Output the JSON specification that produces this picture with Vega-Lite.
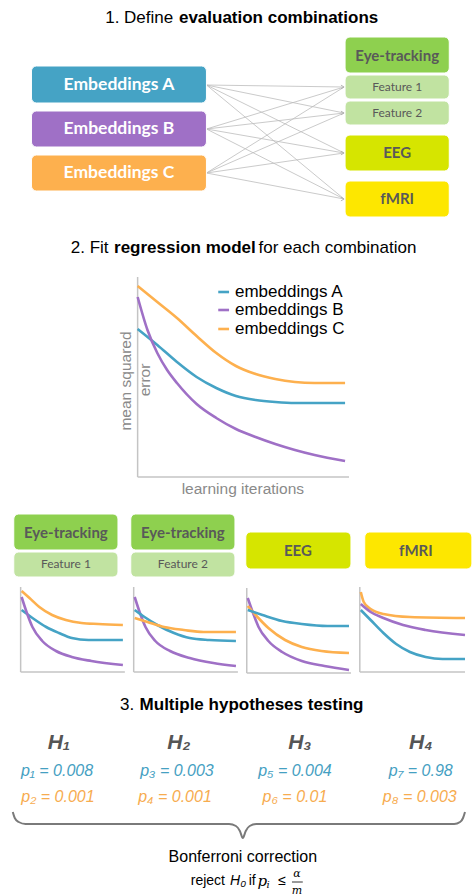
{
  "$schema": "https://vega.github.io/schema/vega-lite/v6.json",
  "width": 473,
  "height": 896,
  "autosize": {"type": "fit", "contains": "padding"},
  "padding": 0,
  "background": "white",
  "config": {"view": {"stroke": null}},
  "datasets": {
    "boxes": [
      {"x": 32, "x2": 210, "y": 66, "y2": 103, "k": "A"},
      {"x": 32, "x2": 210, "y": 111, "y2": 147, "k": "B"},
      {"x": 32, "x2": 210, "y": 155, "y2": 191, "k": "C"},
      {"x": 351, "x2": 457, "y": 37, "y2": 73, "k": "eye"},
      {"x": 351, "x2": 457, "y": 75, "y2": 99, "k": "feat"},
      {"x": 351, "x2": 457, "y": 101, "y2": 125, "k": "feat"},
      {"x": 351, "x2": 457, "y": 135, "y2": 171, "k": "eeg"},
      {"x": 351, "x2": 457, "y": 181, "y2": 217, "k": "fmri"},
      {"x": 14, "x2": 120, "y": 514, "y2": 550, "k": "eye"},
      {"x": 14, "x2": 120, "y": 552, "y2": 577, "k": "feat"},
      {"x": 133, "x2": 239, "y": 514, "y2": 550, "k": "eye"},
      {"x": 133, "x2": 239, "y": 552, "y2": 577, "k": "feat"},
      {"x": 250, "x2": 357, "y": 532, "y2": 569, "k": "eeg"},
      {"x": 371, "x2": 480, "y": 532, "y2": 569, "k": "fmri"}
    ],
    "arrows": [
      {"x": 210, "y": 85, "x2": 350, "y2": 87},
      {"x": 210, "y": 85, "x2": 350, "y2": 113},
      {"x": 210, "y": 85, "x2": 350, "y2": 153},
      {"x": 210, "y": 85, "x2": 350, "y2": 199},
      {"x": 210, "y": 129, "x2": 350, "y2": 87},
      {"x": 210, "y": 129, "x2": 350, "y2": 113},
      {"x": 210, "y": 129, "x2": 350, "y2": 153},
      {"x": 210, "y": 129, "x2": 350, "y2": 199},
      {"x": 210, "y": 173, "x2": 350, "y2": 87},
      {"x": 210, "y": 173, "x2": 350, "y2": 113},
      {"x": 210, "y": 173, "x2": 350, "y2": 153},
      {"x": 210, "y": 173, "x2": 350, "y2": 199}
    ],
    "heads": [
      {"x": 350, "y": 87}, {"x": 350, "y": 113}, {"x": 350, "y": 153}, {"x": 350, "y": 199}
    ],
    "axes": [
      {"x": 140, "y": 277, "x2": 140, "y2": 477},
      {"x": 140, "y": 477, "x2": 355, "y2": 477},
      {"x": 21, "y": 587, "x2": 21, "y2": 672},
      {"x": 21, "y": 672, "x2": 127, "y2": 672},
      {"x": 136, "y": 587, "x2": 136, "y2": 672},
      {"x": 136, "y": 672, "x2": 242, "y2": 672},
      {"x": 251, "y": 588, "x2": 251, "y2": 673},
      {"x": 251, "y": 673, "x2": 357, "y2": 673},
      {"x": 366, "y": 587, "x2": 366, "y2": 672},
      {"x": 366, "y": 672, "x2": 473, "y2": 672}
    ],
    "legend": [
      {"x": 222, "x2": 233, "y": 292, "k": "A"},
      {"x": 222, "x2": 233, "y": 310, "k": "B"},
      {"x": 222, "x2": 233, "y": 329, "k": "C"}
    ],
    "curves": [
      {"g": "m", "k": "C", "x": 140, "y": 286}, {"g": "m", "k": "C", "x": 160, "y": 302}, {"g": "m", "k": "C", "x": 180, "y": 318}, {"g": "m", "k": "C", "x": 200, "y": 336}, {"g": "m", "k": "C", "x": 220, "y": 353}, {"g": "m", "k": "C", "x": 240, "y": 366}, {"g": "m", "k": "C", "x": 260, "y": 374}, {"g": "m", "k": "C", "x": 280, "y": 379}, {"g": "m", "k": "C", "x": 300, "y": 382}, {"g": "m", "k": "C", "x": 320, "y": 383}, {"g": "m", "k": "C", "x": 351, "y": 383},
      {"g": "m", "k": "A", "x": 140, "y": 329}, {"g": "m", "k": "A", "x": 160, "y": 345}, {"g": "m", "k": "A", "x": 180, "y": 362}, {"g": "m", "k": "A", "x": 200, "y": 377}, {"g": "m", "k": "A", "x": 220, "y": 388}, {"g": "m", "k": "A", "x": 240, "y": 396}, {"g": "m", "k": "A", "x": 260, "y": 400}, {"g": "m", "k": "A", "x": 280, "y": 402}, {"g": "m", "k": "A", "x": 300, "y": 403}, {"g": "m", "k": "A", "x": 351, "y": 403},
      {"g": "m", "k": "B", "x": 140, "y": 297}, {"g": "m", "k": "B", "x": 150, "y": 330}, {"g": "m", "k": "B", "x": 160, "y": 353}, {"g": "m", "k": "B", "x": 170, "y": 370}, {"g": "m", "k": "B", "x": 180, "y": 383}, {"g": "m", "k": "B", "x": 200, "y": 404}, {"g": "m", "k": "B", "x": 220, "y": 418}, {"g": "m", "k": "B", "x": 240, "y": 429}, {"g": "m", "k": "B", "x": 260, "y": 437}, {"g": "m", "k": "B", "x": 280, "y": 444}, {"g": "m", "k": "B", "x": 300, "y": 450}, {"g": "m", "k": "B", "x": 320, "y": 455}, {"g": "m", "k": "B", "x": 351, "y": 461},

      {"g": "p1", "k": "C", "x": 22, "y": 591}, {"g": "p1", "k": "C", "x": 30, "y": 598}, {"g": "p1", "k": "C", "x": 40, "y": 607}, {"g": "p1", "k": "C", "x": 53, "y": 615}, {"g": "p1", "k": "C", "x": 67, "y": 620}, {"g": "p1", "k": "C", "x": 83, "y": 623}, {"g": "p1", "k": "C", "x": 100, "y": 624}, {"g": "p1", "k": "C", "x": 125, "y": 625},
      {"g": "p1", "k": "A", "x": 22, "y": 610}, {"g": "p1", "k": "A", "x": 33, "y": 618}, {"g": "p1", "k": "A", "x": 47, "y": 627}, {"g": "p1", "k": "A", "x": 60, "y": 633}, {"g": "p1", "k": "A", "x": 73, "y": 638}, {"g": "p1", "k": "A", "x": 90, "y": 640}, {"g": "p1", "k": "A", "x": 125, "y": 640},
      {"g": "p1", "k": "B", "x": 22, "y": 597}, {"g": "p1", "k": "B", "x": 27, "y": 612}, {"g": "p1", "k": "B", "x": 33, "y": 627}, {"g": "p1", "k": "B", "x": 43, "y": 641}, {"g": "p1", "k": "B", "x": 57, "y": 651}, {"g": "p1", "k": "B", "x": 73, "y": 657}, {"g": "p1", "k": "B", "x": 93, "y": 661}, {"g": "p1", "k": "B", "x": 125, "y": 665},

      {"g": "p2", "k": "B", "x": 137, "y": 597}, {"g": "p2", "k": "B", "x": 142, "y": 612}, {"g": "p2", "k": "B", "x": 148, "y": 627}, {"g": "p2", "k": "B", "x": 158, "y": 641}, {"g": "p2", "k": "B", "x": 173, "y": 651}, {"g": "p2", "k": "B", "x": 193, "y": 658}, {"g": "p2", "k": "B", "x": 217, "y": 663}, {"g": "p2", "k": "B", "x": 240, "y": 666},
      {"g": "p2", "k": "A", "x": 137, "y": 610}, {"g": "p2", "k": "A", "x": 147, "y": 617}, {"g": "p2", "k": "A", "x": 160, "y": 625}, {"g": "p2", "k": "A", "x": 177, "y": 633}, {"g": "p2", "k": "A", "x": 193, "y": 638}, {"g": "p2", "k": "A", "x": 213, "y": 640}, {"g": "p2", "k": "A", "x": 240, "y": 641},
      {"g": "p2", "k": "C", "x": 137, "y": 618}, {"g": "p2", "k": "C", "x": 150, "y": 622}, {"g": "p2", "k": "C", "x": 167, "y": 627}, {"g": "p2", "k": "C", "x": 187, "y": 630}, {"g": "p2", "k": "C", "x": 207, "y": 632}, {"g": "p2", "k": "C", "x": 240, "y": 632},

      {"g": "p3", "k": "B", "x": 252, "y": 598}, {"g": "p3", "k": "B", "x": 257, "y": 612}, {"g": "p3", "k": "B", "x": 263, "y": 627}, {"g": "p3", "k": "B", "x": 273, "y": 641}, {"g": "p3", "k": "B", "x": 287, "y": 652}, {"g": "p3", "k": "B", "x": 307, "y": 661}, {"g": "p3", "k": "B", "x": 330, "y": 666}, {"g": "p3", "k": "B", "x": 355, "y": 670},
      {"g": "p3", "k": "C", "x": 252, "y": 606}, {"g": "p3", "k": "C", "x": 260, "y": 615}, {"g": "p3", "k": "C", "x": 273, "y": 628}, {"g": "p3", "k": "C", "x": 290, "y": 640}, {"g": "p3", "k": "C", "x": 307, "y": 647}, {"g": "p3", "k": "C", "x": 327, "y": 651}, {"g": "p3", "k": "C", "x": 355, "y": 653},
      {"g": "p3", "k": "A", "x": 252, "y": 610}, {"g": "p3", "k": "A", "x": 267, "y": 615}, {"g": "p3", "k": "A", "x": 287, "y": 621}, {"g": "p3", "k": "A", "x": 307, "y": 624}, {"g": "p3", "k": "A", "x": 333, "y": 626}, {"g": "p3", "k": "A", "x": 355, "y": 626},

      {"g": "p4", "k": "C", "x": 367, "y": 592}, {"g": "p4", "k": "C", "x": 370, "y": 602}, {"g": "p4", "k": "C", "x": 377, "y": 609}, {"g": "p4", "k": "C", "x": 390, "y": 614}, {"g": "p4", "k": "C", "x": 417, "y": 617}, {"g": "p4", "k": "C", "x": 473, "y": 618},
      {"g": "p4", "k": "B", "x": 367, "y": 604}, {"g": "p4", "k": "B", "x": 377, "y": 612}, {"g": "p4", "k": "B", "x": 390, "y": 618}, {"g": "p4", "k": "B", "x": 410, "y": 625}, {"g": "p4", "k": "B", "x": 433, "y": 630}, {"g": "p4", "k": "B", "x": 473, "y": 635},
      {"g": "p4", "k": "A", "x": 367, "y": 610}, {"g": "p4", "k": "A", "x": 377, "y": 620}, {"g": "p4", "k": "A", "x": 390, "y": 633}, {"g": "p4", "k": "A", "x": 403, "y": 644}, {"g": "p4", "k": "A", "x": 417, "y": 652}, {"g": "p4", "k": "A", "x": 433, "y": 657}, {"g": "p4", "k": "A", "x": 450, "y": 659}, {"g": "p4", "k": "A", "x": 473, "y": 659}
    ],
    "brace": [
      {"x": 13, "y": 812}, {"x": 15, "y": 818}, {"x": 19, "y": 822}, {"x": 26, "y": 824}, {"x": 233, "y": 824}, {"x": 240, "y": 826}, {"x": 244, "y": 831}, {"x": 247, "y": 838}, {"x": 250, "y": 831}, {"x": 254, "y": 826}, {"x": 261, "y": 824}, {"x": 462, "y": 824}, {"x": 468, "y": 822}, {"x": 471, "y": 818}, {"x": 473, "y": 812}
    ],
    "frac": [{"x": 297, "x2": 308, "y": 882}],
    "texts": [
      {"r": "tn", "x": 107, "y": 18, "t": "1. Define"},
      {"r": "tb", "x": 182, "y": 18, "t": "evaluation combinations"},
      {"r": "tn", "x": 72, "y": 248, "t": "2. Fit"},
      {"r": "tb", "x": 116, "y": 248, "t": "regression model"},
      {"r": "tn", "x": 263, "y": 248, "t": "for each combination"},
      {"r": "tn", "x": 122, "y": 705, "t": "3."},
      {"r": "tb", "x": 142, "y": 705, "t": "Multiple hypotheses testing"},
      {"r": "emb", "x": 121, "y": 85, "t": "Embeddings A"},
      {"r": "emb", "x": 121, "y": 129, "t": "Embeddings B"},
      {"r": "emb", "x": 121, "y": 173, "t": "Embeddings C"},
      {"r": "bb", "x": 404, "y": 56, "t": "Eye-tracking"},
      {"r": "br", "x": 404, "y": 87, "t": "Feature 1"},
      {"r": "br", "x": 404, "y": 113, "t": "Feature 2"},
      {"r": "bb", "x": 404, "y": 153, "t": "EEG"},
      {"r": "bb", "x": 404, "y": 199, "t": "fMRI"},
      {"r": "bb", "x": 67, "y": 533, "t": "Eye-tracking"},
      {"r": "br", "x": 67, "y": 564, "t": "Feature 1"},
      {"r": "bb", "x": 186, "y": 533, "t": "Eye-tracking"},
      {"r": "br", "x": 186, "y": 564, "t": "Feature 2"},
      {"r": "bb", "x": 303, "y": 551, "t": "EEG"},
      {"r": "bb", "x": 423, "y": 551, "t": "fMRI"},
      {"r": "leg", "x": 239, "y": 292, "t": "embeddings A"},
      {"r": "leg", "x": 239, "y": 310, "t": "embeddings B"},
      {"r": "leg", "x": 239, "y": 329, "t": "embeddings C"},
      {"r": "ax", "x": 247, "y": 489, "t": "learning iterations"},
      {"r": "axr", "x": 128, "y": 381, "t": "mean squared"},
      {"r": "axr", "x": 148, "y": 380, "t": "error"},
      {"r": "H", "x": 60, "y": 743, "t": "H₁"},
      {"r": "H", "x": 182, "y": 743, "t": "H₂"},
      {"r": "H", "x": 305, "y": 743, "t": "H₃"},
      {"r": "H", "x": 428, "y": 743, "t": "H₄"},
      {"r": "pA", "x": 58, "y": 771, "t": "p₁ = 0.008"},
      {"r": "pA", "x": 180, "y": 771, "t": "p₃ = 0.003"},
      {"r": "pA", "x": 300, "y": 771, "t": "p₅ = 0.004"},
      {"r": "pA", "x": 428, "y": 771, "t": "p₇ = 0.98"},
      {"r": "pC", "x": 59, "y": 797, "t": "p₂ = 0.001"},
      {"r": "pC", "x": 178, "y": 797, "t": "p₄ = 0.001"},
      {"r": "pC", "x": 300, "y": 797, "t": "p₆ = 0.01"},
      {"r": "pC", "x": 427, "y": 797, "t": "p₈ = 0.003"},
      {"r": "bon", "x": 247, "y": 857, "t": "Bonferroni correction"},
      {"r": "rj", "x": 194, "y": 881, "t": "reject"},
      {"r": "rji", "x": 234, "y": 881, "t": "H₀"},
      {"r": "rj", "x": 253, "y": 881, "t": "if"},
      {"r": "mi", "x": 262, "y": 881, "t": "p"},
      {"r": "ms", "x": 271, "y": 885, "t": "i"},
      {"r": "rj", "x": 283, "y": 881, "t": "≤"},
      {"r": "mf", "x": 302, "y": 874, "t": "α"},
      {"r": "mf", "x": 302, "y": 891, "t": "m"}
    ]
  },
  "encoding": {
    "x": {"field": "x", "type": "quantitative", "scale": {"domain": [0, 473], "nice": false, "zero": false}, "axis": null},
    "y": {"field": "y", "type": "quantitative", "scale": {"domain": [0, 896], "nice": false, "zero": false, "reverse": true}, "axis": null}
  },
  "layer": [
    {
      "data": {"name": "arrows"},
      "mark": {"type": "rule", "color": "#bdbdbd", "strokeWidth": 0.8},
      "encoding": {"x2": {"field": "x2"}, "y2": {"field": "y2"}}
    },
    {
      "data": {"name": "heads"},
      "mark": {"type": "point", "shape": "M-1,-0.6L0,0L-1,0.6", "filled": false, "stroke": "#b0b0b0", "strokeWidth": 0.9, "size": 40, "opacity": 1},
      "encoding": {}
    },
    {
      "data": {"name": "boxes"},
      "mark": {"type": "rect", "cornerRadius": 5, "stroke": "#ffffff", "strokeWidth": 1},
      "encoding": {
        "x2": {"field": "x2"}, "y2": {"field": "y2"},
        "color": {"field": "k", "type": "nominal", "legend": null,
          "scale": {"domain": ["A", "B", "C", "eye", "feat", "eeg", "fmri"], "range": ["#45a3c5", "#9f70c6", "#fdb04e", "#8ed04f", "#c1e3a1", "#d6e500", "#fde700"]}}
      }
    },
    {
      "data": {"name": "axes"},
      "mark": {"type": "rule", "color": "#c4c4c4", "strokeWidth": 1.5},
      "encoding": {"x2": {"field": "x2"}, "y2": {"field": "y2"}}
    },
    {
      "data": {"name": "curves"},
      "mark": {"type": "line", "strokeWidth": 2.6, "interpolate": "monotone"},
      "encoding": {
        "detail": {"field": "g", "type": "nominal"},
        "color": {"field": "k", "type": "nominal", "legend": null,
          "scale": {"domain": ["A", "B", "C", "eye", "feat", "eeg", "fmri"], "range": ["#45a3c5", "#9f70c6", "#fdb04e", "#8ed04f", "#c1e3a1", "#d6e500", "#fde700"]}}
      }
    },
    {
      "data": {"name": "legend"},
      "mark": {"type": "rule", "strokeWidth": 2.6},
      "encoding": {
        "x2": {"field": "x2"},
        "color": {"field": "k", "type": "nominal", "legend": null,
          "scale": {"domain": ["A", "B", "C", "eye", "feat", "eeg", "fmri"], "range": ["#45a3c5", "#9f70c6", "#fdb04e", "#8ed04f", "#c1e3a1", "#d6e500", "#fde700"]}}
      }
    },
    {
      "data": {"name": "brace"},
      "mark": {"type": "line", "color": "#7a7a7a", "strokeWidth": 2, "interpolate": "monotone"},
      "encoding": {}
    },
    {
      "data": {"name": "frac"},
      "mark": {"type": "rule", "color": "#000000", "strokeWidth": 0.8},
      "encoding": {"x2": {"field": "x2"}}
    },
    {
      "data": {"name": "texts"},
      "transform": [{"filter": "datum.r === 'tn'"}],
      "mark": {"type": "text", "align": "left", "baseline": "middle", "font": "Liberation Sans", "fontSize": 17, "color": "#000000"},
      "encoding": {"text": {"field": "t"}}
    },
    {
      "data": {"name": "texts"},
      "transform": [{"filter": "datum.r === 'tb'"}],
      "mark": {"type": "text", "align": "left", "baseline": "middle", "font": "Liberation Sans", "fontWeight": "bold", "fontSize": 17, "color": "#000000"},
      "encoding": {"text": {"field": "t"}}
    },
    {
      "data": {"name": "texts"},
      "transform": [{"filter": "datum.r === 'emb'"}],
      "mark": {"type": "text", "align": "center", "baseline": "middle", "font": "Lato", "fontWeight": "bold", "fontSize": 17.5, "color": "#ffffff"},
      "encoding": {"text": {"field": "t"}}
    },
    {
      "data": {"name": "texts"},
      "transform": [{"filter": "datum.r === 'bb'"}],
      "mark": {"type": "text", "align": "center", "baseline": "middle", "font": "Lato", "fontWeight": "bold", "fontSize": 15, "color": "#595959"},
      "encoding": {"text": {"field": "t"}}
    },
    {
      "data": {"name": "texts"},
      "transform": [{"filter": "datum.r === 'br'"}],
      "mark": {"type": "text", "align": "center", "baseline": "middle", "font": "Lato", "fontSize": 12, "color": "#595959"},
      "encoding": {"text": {"field": "t"}}
    },
    {
      "data": {"name": "texts"},
      "transform": [{"filter": "datum.r === 'leg'"}],
      "mark": {"type": "text", "align": "left", "baseline": "middle", "font": "Liberation Sans", "fontSize": 17, "color": "#000000"},
      "encoding": {"text": {"field": "t"}}
    },
    {
      "data": {"name": "texts"},
      "transform": [{"filter": "datum.r === 'ax'"}],
      "mark": {"type": "text", "align": "center", "baseline": "middle", "font": "Liberation Sans", "fontSize": 15.5, "color": "#8a8a8a"},
      "encoding": {"text": {"field": "t"}}
    },
    {
      "data": {"name": "texts"},
      "transform": [{"filter": "datum.r === 'axr'"}],
      "mark": {"type": "text", "align": "center", "baseline": "middle", "font": "Liberation Sans", "fontSize": 15.5, "color": "#8a8a8a", "angle": 270},
      "encoding": {"text": {"field": "t"}}
    },
    {
      "data": {"name": "texts"},
      "transform": [{"filter": "datum.r === 'H'"}],
      "mark": {"type": "text", "align": "center", "baseline": "middle", "font": "Liberation Sans", "fontWeight": "bold", "fontStyle": "italic", "fontSize": 21, "color": "#555555"},
      "encoding": {"text": {"field": "t"}}
    },
    {
      "data": {"name": "texts"},
      "transform": [{"filter": "datum.r === 'pA'"}],
      "mark": {"type": "text", "align": "center", "baseline": "middle", "font": "Liberation Sans", "fontStyle": "italic", "fontSize": 16, "color": "#45a0c2"},
      "encoding": {"text": {"field": "t"}}
    },
    {
      "data": {"name": "texts"},
      "transform": [{"filter": "datum.r === 'pC'"}],
      "mark": {"type": "text", "align": "center", "baseline": "middle", "font": "Liberation Sans", "fontStyle": "italic", "fontSize": 16, "color": "#f7ac4f"},
      "encoding": {"text": {"field": "t"}}
    },
    {
      "data": {"name": "texts"},
      "transform": [{"filter": "datum.r === 'bon'"}],
      "mark": {"type": "text", "align": "center", "baseline": "middle", "font": "Liberation Sans", "fontSize": 16, "color": "#000000"},
      "encoding": {"text": {"field": "t"}}
    },
    {
      "data": {"name": "texts"},
      "transform": [{"filter": "datum.r === 'rj'"}],
      "mark": {"type": "text", "align": "left", "baseline": "middle", "font": "Liberation Sans", "fontSize": 14, "color": "#000000"},
      "encoding": {"text": {"field": "t"}}
    },
    {
      "data": {"name": "texts"},
      "transform": [{"filter": "datum.r === 'rji'"}],
      "mark": {"type": "text", "align": "left", "baseline": "middle", "font": "Liberation Sans", "fontStyle": "italic", "fontSize": 14, "color": "#000000"},
      "encoding": {"text": {"field": "t"}}
    },
    {
      "data": {"name": "texts"},
      "transform": [{"filter": "datum.r === 'mi'"}],
      "mark": {"type": "text", "align": "left", "baseline": "middle", "font": "DejaVu Serif", "fontStyle": "italic", "fontSize": 15, "color": "#000000"},
      "encoding": {"text": {"field": "t"}}
    },
    {
      "data": {"name": "texts"},
      "transform": [{"filter": "datum.r === 'ms'"}],
      "mark": {"type": "text", "align": "left", "baseline": "middle", "font": "DejaVu Serif", "fontStyle": "italic", "fontSize": 10, "color": "#000000"},
      "encoding": {"text": {"field": "t"}}
    },
    {
      "data": {"name": "texts"},
      "transform": [{"filter": "datum.r === 'mf'"}],
      "mark": {"type": "text", "align": "center", "baseline": "middle", "font": "DejaVu Serif", "fontStyle": "italic", "fontSize": 11, "color": "#000000"},
      "encoding": {"text": {"field": "t"}}
    }
  ]
}
